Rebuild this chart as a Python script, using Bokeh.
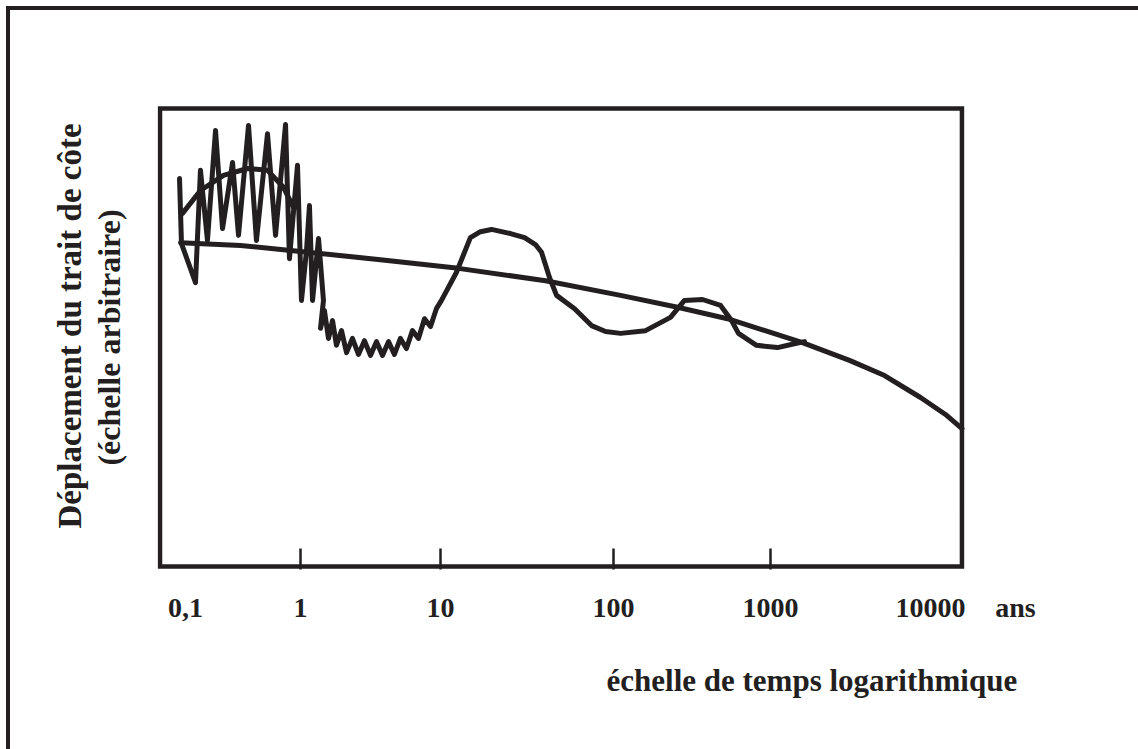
import numpy as np
from bokeh.plotting import figure
from bokeh.models import FixedTicker, BoxAnnotation, Title
from bokeh.embed import file_html
from bokeh.resources import INLINE

# ---------------- data (time as log10 of years, displacement in arbitrary units) ----------------
tick_labels = ["0,1", "1", "10", "100", "1000", "10000"]
tick_log_years = [-1, 0, 1, 2, 3, 4]
marked_log_years = [0, 1, 2, 3]
unit_label = "ans"

trend_log_t = [-1.043, -0.522, 0.0, 0.571, 1.104, 1.607, 2.045, 2.408, 2.726,
               3.200, 3.494, 3.713, 3.938, 4.094, 4.197]
trend_disp = [7.07, 7.01, 6.88, 6.70, 6.51, 6.24, 5.92, 5.66, 5.41,
              4.89, 4.50, 4.17, 3.69, 3.32, 3.01]

# short-term oscillations (0.1 - 1 yr)
osc_log_t = [-1.052, -1.035, -0.913, -0.870, -0.809, -0.739, -0.678, -0.591, -0.539, -0.452,
             -0.383, -0.287, -0.217, -0.130, -0.096, -0.026, 0.007, 0.043, 0.064, 0.086,
             0.129, 0.164]
osc_disp = [8.47, 7.05, 6.20, 8.65, 7.12, 9.52, 7.38, 8.82, 7.23, 9.63,
            7.12, 9.45, 7.23, 9.65, 6.72, 8.76, 5.81, 6.90, 7.88, 5.81,
            7.16, 5.81]

# damped oscillations (1 - 10 yr)
damp_log_t = [0.143, 0.171, 0.200, 0.229, 0.257, 0.293, 0.329, 0.371, 0.414, 0.457, 0.500,
              0.543, 0.586, 0.629, 0.671, 0.714, 0.757, 0.800, 0.843, 0.886, 0.929, 0.971]
damp_disp = [5.20, 5.59, 4.98, 5.37, 4.83, 5.15, 4.67, 4.98, 4.63, 4.93, 4.61,
             4.91, 4.61, 4.91, 4.63, 4.98, 4.76, 5.15, 4.98, 5.41, 5.24, 5.63]

# long-period fluctuations (10 - 2000 yr)
long_log_t = [1.006, 1.092, 1.173, 1.231, 1.295, 1.405, 1.486, 1.549, 1.584, 1.607, 1.630,
              1.671, 1.775, 1.873, 1.954, 2.045, 2.204, 2.363, 2.452, 2.567, 2.682, 2.752,
              2.796, 2.911, 3.044, 3.156, 3.213]
long_disp = [5.81, 6.42, 7.18, 7.31, 7.36, 7.27, 7.18, 7.03, 6.86, 6.59, 6.31,
             5.92, 5.63, 5.26, 5.13, 5.09, 5.15, 5.44, 5.81, 5.83, 5.70, 5.37,
             5.09, 4.83, 4.78, 4.87, 4.91]

# mean seasonal arch
arch_log_t = [-1.026, -0.870, -0.670, -0.461, -0.287, -0.148, -0.061]
arch_disp = [7.71, 8.21, 8.54, 8.69, 8.65, 8.28, 7.84]

# ---------------- hand-drawn logarithmic axis (decade -> axis position) ----------------
AXIS_DECADES = [-2, -1, 0, 1, 2, 3, 4, 5]
AXIS_POS = [-1.0, 0.0, 1.0, 2.217, 3.722, 5.087, 6.478, 7.870]
UNIT_POS = 7.217          # where the "ans" unit sits, right of the box
BOX = dict(left=-0.2217, right=6.752, bottom=0.0, top=10.0)


def warp(v):
    return [float(x) for x in np.interp(v, AXIS_DECADES, AXIS_POS)]


INK = "#231f20"
FONT = "Liberation Serif"

p = figure(width=1128, height=739, output_backend="svg", toolbar_location=None,
           x_range=(-0.2435, 7.609), y_range=(-0.0655, 10.066),
           min_border_left=147, min_border_right=78,
           min_border_top=95, min_border_bottom=180)
p.styles = {"margin-left": "10px", "margin-top": "10px",
            "box-shadow": "-2px -2px 0 2px #231f20"}
p.background_fill_color = "white"
p.border_fill_color = "white"
p.outline_line_color = None
p.grid.visible = False

p.add_layout(BoxAnnotation(**BOX, fill_alpha=0, fill_color=None,
                           line_color=INK, line_alpha=1.0, line_width=4.5,
                           line_join="miter"))

kw = dict(line_color=INK, line_width=5, line_join="round", line_cap="round")
p.line(warp(trend_log_t), trend_disp, **kw)
p.line(warp(arch_log_t), arch_disp, **kw)
p.line(warp(osc_log_t + damp_log_t + long_log_t), osc_disp + damp_disp + long_disp, **kw)

tick_pos = warp(tick_log_years) + [UNIT_POS]
ax = p.xaxis[0]
ax.ticker = FixedTicker(ticks=tick_pos, minor_ticks=warp(marked_log_years))
ax.major_label_overrides = dict(zip(tick_pos, tick_labels + [unit_label]))
ax.axis_line_color = None
ax.major_tick_line_color = None
ax.major_tick_in = 0
ax.major_tick_out = 0
ax.minor_tick_line_color = INK
ax.minor_tick_line_width = 2.5
ax.minor_tick_in = 21
ax.minor_tick_out = 0
ax.major_label_standoff = 22
ax.major_label_text_font = FONT
ax.major_label_text_font_style = "bold"
ax.major_label_text_font_size = "28px"
ax.major_label_text_color = INK

# y axis: no ticks, only its (second-line) title
ay = p.yaxis[0]
ay.ticker = FixedTicker(ticks=[])
ay.axis_line_color = None
ay.major_tick_line_color = None
ay.minor_tick_line_color = None
ay.major_tick_in = 0
ay.major_tick_out = 0
ay.minor_tick_in = 0
ay.minor_tick_out = 0
ay.major_label_text_font_size = "0px"
ay.axis_label = "(échelle arbitraire)"
ay.axis_label_standoff = 31
ay.axis_label_text_font = FONT
ay.axis_label_text_font_style = "bold"
ay.axis_label_text_font_size = "32px"
ay.axis_label_text_color = INK

ttl = dict(text_font=FONT, text_font_style="bold", text_color=INK)
p.add_layout(Title(text="échelle de temps logarithmique", align="left", offset=449,
                   standoff=70, text_font_size="31px", **ttl), "below")
p.add_layout(Title(text="Déplacement du trait de côte", align="left", offset=41,
                   standoff=0, text_font_size="33px", **ttl), "left")

open("out.html", "w").write(file_html(p, INLINE))
